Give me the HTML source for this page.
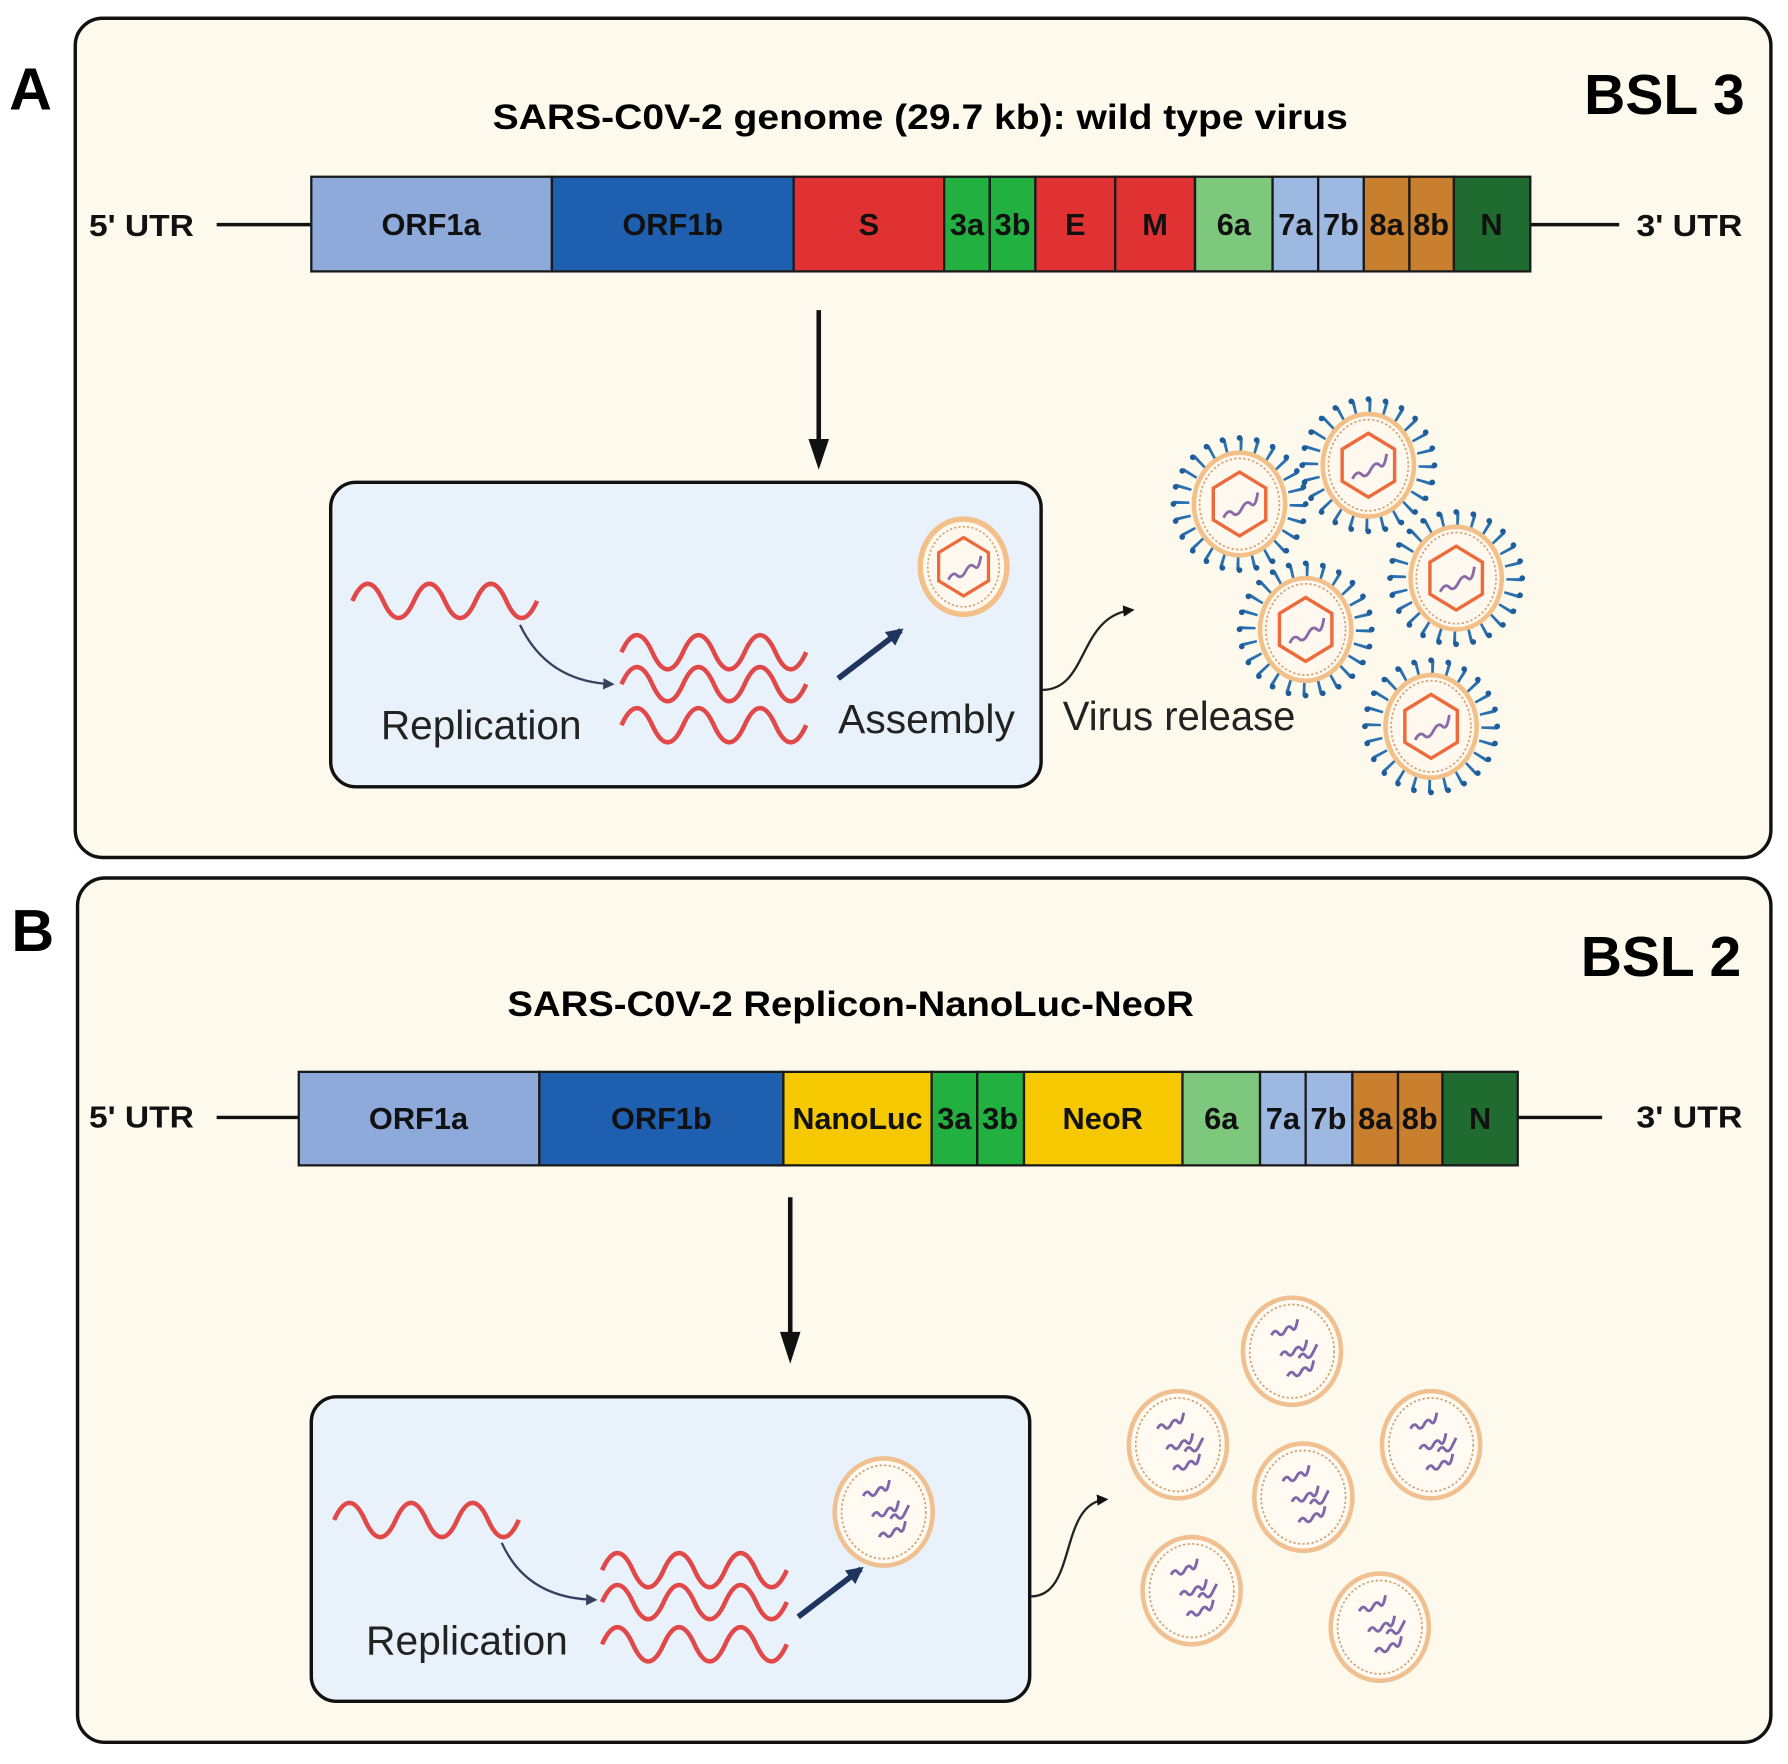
<!DOCTYPE html>
<html><head><meta charset="utf-8"><style>
html,body{margin:0;padding:0;background:#fff}
svg{display:block}
text{font-family:"Liberation Sans",sans-serif}
.g{font-weight:bold;font-size:27px;fill:#111}
</style></head><body>
<svg width="1788" height="1764" viewBox="0 0 1568 1547" preserveAspectRatio="none" xmlns="http://www.w3.org/2000/svg">
<defs>
<marker id="ah" viewBox="0 0 10 10" refX="8" refY="5" markerWidth="5" markerHeight="5" orient="auto"><path d="M0,0 L10,5 L0,10 z" fill="#34425e"/></marker>
<marker id="ah2" viewBox="0 0 10 10" refX="8" refY="5" markerWidth="3" markerHeight="3" orient="auto"><path d="M0,0 L10,5 L0,10 z" fill="#1e3560"/></marker>
<marker id="ahk" viewBox="0 0 10 10" refX="8" refY="5" markerWidth="5" markerHeight="5" orient="auto"><path d="M0,0 L10,5 L0,10 z" fill="#111"/></marker>
<g id="vir">
  <circle r="51" fill="none" stroke="#2a70b0" stroke-width="14" stroke-dasharray="2.5 10.85"/>
  <circle r="58" fill="none" stroke="#1f5c9a" stroke-width="5" stroke-dasharray="0 15.18" stroke-linecap="round"/>
  <ellipse rx="40" ry="45" fill="#fff8ee" stroke="#f2c088" stroke-width="4"/>
  <ellipse rx="35" ry="40" fill="none" stroke="#d6a070" stroke-width="1.5" stroke-dasharray="2 2"/>
  <polygon points="0,-28 23,-14 23,14 0,28 -23,14 -23,-14" fill="none" stroke="#ee6a3a" stroke-width="3"/>
  <path d="M-14,12 q4,-8 8,-4 t8,-4 t8,-4 t6,-10" fill="none" stroke="#8a6aa8" stroke-width="2.5"/>
</g>
<g id="ves">
  <ellipse rx="43" ry="47" fill="#fffaf2" stroke="#f0c090" stroke-width="4"/>
  <ellipse rx="37" ry="41" fill="none" stroke="#d2a070" stroke-width="1.5" stroke-dasharray="2 2"/>
  <path d="M-18,-14 q3,-6 6,-2 t6,-2 t6,-2 t5,-8 M-10,4 q3,-6 6,-2 t6,-2 t6,-2 t5,-8 M-4,22 q3,-6 6,-2 t6,-2 t6,-2 t5,-8 M6,6 q3,-6 6,-2 t6,-2 t4,-8" fill="none" stroke="#7a68a8" stroke-width="2.5"/>
</g>
<path id="wav" d="M0,0 q13.5,-30 27,0 t27,0 t27,0 t27,0 t27,0 t27,0" fill="none" stroke="#e24848" stroke-width="4"/>
</defs>

<rect width="1568" height="1547" fill="#fff"/>
<!-- Panel A -->
<rect x="66" y="16" width="1487" height="736" rx="24" fill="#fdf9ec" stroke="#111" stroke-width="3"/>
<text x="8" y="96" font-size="52" font-weight="bold">A</text>
<text x="1530" y="100" font-size="50" font-weight="bold" text-anchor="end">BSL 3</text>
<text x="432" y="113" font-size="31" font-weight="bold" textLength="750" lengthAdjust="spacingAndGlyphs">SARS-C0V-2 genome (29.7 kb): wild type virus</text>
<line x1="190" y1="197" x2="273" y2="197" stroke="#111" stroke-width="3"/>
<line x1="1342" y1="197" x2="1420" y2="197" stroke="#111" stroke-width="3"/>
<text x="78" y="207" class="g" textLength="92" lengthAdjust="spacingAndGlyphs">5' UTR</text>
<text x="1435" y="207" class="g" textLength="93" lengthAdjust="spacingAndGlyphs">3' UTR</text>
<g stroke="#1a1a1a" stroke-width="2">
<rect x="273" y="155" width="211" height="83" fill="#8eaadb"/>
<rect x="484" y="155" width="212" height="83" fill="#1f5fb0"/>
<rect x="696" y="155" width="132" height="83" fill="#e03232"/>
<rect x="828" y="155" width="40" height="83" fill="#22b040"/>
<rect x="868" y="155" width="40" height="83" fill="#22b040"/>
<rect x="908" y="155" width="70" height="83" fill="#e03232"/>
<rect x="978" y="155" width="70" height="83" fill="#e03232"/>
<rect x="1048" y="155" width="68" height="83" fill="#7dc87d"/>
<rect x="1116" y="155" width="40" height="83" fill="#9db9e2"/>
<rect x="1156" y="155" width="40" height="83" fill="#9db9e2"/>
<rect x="1196" y="155" width="40" height="83" fill="#c8802e"/>
<rect x="1236" y="155" width="39" height="83" fill="#c8802e"/>
<rect x="1275" y="155" width="67" height="83" fill="#1f6b30"/>
</g>
<g class="g" text-anchor="middle">
<text x="378" y="206" class="g">ORF1a</text><text x="590" y="206" class="g">ORF1b</text>
<text x="762" y="206" class="g">S</text><text x="848" y="206" class="g">3a</text><text x="888" y="206" class="g">3b</text>
<text x="943" y="206" class="g">E</text><text x="1013" y="206" class="g">M</text><text x="1082" y="206" class="g">6a</text>
<text x="1136" y="206" class="g">7a</text><text x="1176" y="206" class="g">7b</text><text x="1216" y="206" class="g">8a</text>
<text x="1255" y="206" class="g">8b</text><text x="1308" y="206" class="g">N</text>
</g>
<line x1="718" y1="272" x2="718" y2="395" stroke="#111" stroke-width="4"/>
<polygon points="709,385 727,385 718,412" fill="#111"/>
<rect x="290" y="423" width="623" height="267" rx="22" fill="#e9f1fb" stroke="#111" stroke-width="3"/>
<use href="#wav" x="309" y="527"/>
<use href="#wav" x="545" y="572"/>
<use href="#wav" x="545" y="600"/>
<use href="#wav" x="545" y="636"/>
<path d="M456,548 Q480,598 537,600" fill="none" stroke="#34425e" stroke-width="2" marker-end="url(#ah)"/>
<line x1="735" y1="595" x2="790" y2="553" stroke="#1e3560" stroke-width="5" marker-end="url(#ah2)"/>
<g transform="translate(845,497) scale(0.95)">
  <ellipse rx="40" ry="44" fill="#fff8ee" stroke="#f2c088" stroke-width="5"/>
  <ellipse rx="33" ry="37" fill="none" stroke="#d6a070" stroke-width="1.5" stroke-dasharray="2 2"/>
  <polygon points="0,-27 23,-13 23,13 0,27 -23,13 -23,-13" fill="none" stroke="#ee6a3a" stroke-width="3"/>
  <path d="M-14,12 q4,-8 8,-4 t8,-4 t8,-4 t6,-10" fill="none" stroke="#8a6aa8" stroke-width="2.5"/>
</g>
<text x="334" y="648" font-size="36" fill="#222" textLength="176" lengthAdjust="spacingAndGlyphs">Replication</text>
<text x="735" y="643" font-size="36" fill="#222" textLength="155" lengthAdjust="spacingAndGlyphs">Assembly</text>
<text x="932" y="640" font-size="36" fill="#222" textLength="204" lengthAdjust="spacingAndGlyphs">Virus release</text>
<path d="M914,605 C955,605 945,540 993,535" fill="none" stroke="#222" stroke-width="2" marker-end="url(#ahk)"/>
<use href="#vir" x="1087" y="442"/>
<use href="#vir" x="1200" y="408"/>
<use href="#vir" x="1277" y="507"/>
<use href="#vir" x="1145" y="552"/>
<use href="#vir" x="1255" y="637"/>

<!-- Panel B -->
<rect x="68" y="770" width="1485" height="758" rx="24" fill="#fdf9ec" stroke="#111" stroke-width="3"/>
<text x="10" y="834" font-size="52" font-weight="bold">B</text>
<text x="1527" y="856" font-size="50" font-weight="bold" text-anchor="end">BSL 2</text>
<text x="445" y="891" font-size="31" font-weight="bold" textLength="602" lengthAdjust="spacingAndGlyphs">SARS-C0V-2 Replicon-NanoLuc-NeoR</text>
<line x1="190" y1="980" x2="262" y2="980" stroke="#111" stroke-width="3"/>
<line x1="1331" y1="980" x2="1405" y2="980" stroke="#111" stroke-width="3"/>
<text x="78" y="989" class="g" textLength="92" lengthAdjust="spacingAndGlyphs">5' UTR</text>
<text x="1435" y="989" class="g" textLength="93" lengthAdjust="spacingAndGlyphs">3' UTR</text>
<g stroke="#1a1a1a" stroke-width="2">
<rect x="262" y="940" width="211" height="82" fill="#8eaadb"/>
<rect x="473" y="940" width="214" height="82" fill="#1f5fb0"/>
<rect x="687" y="940" width="130" height="82" fill="#f5c800"/>
<rect x="817" y="940" width="40" height="82" fill="#22b040"/>
<rect x="857" y="940" width="41" height="82" fill="#22b040"/>
<rect x="898" y="940" width="139" height="82" fill="#f5c800"/>
<rect x="1037" y="940" width="68" height="82" fill="#7dc87d"/>
<rect x="1105" y="940" width="40" height="82" fill="#9db9e2"/>
<rect x="1145" y="940" width="41" height="82" fill="#9db9e2"/>
<rect x="1186" y="940" width="40" height="82" fill="#c8802e"/>
<rect x="1226" y="940" width="39" height="82" fill="#c8802e"/>
<rect x="1265" y="940" width="66" height="82" fill="#1f6b30"/>
</g>
<g text-anchor="middle">
<text x="367" y="990" class="g">ORF1a</text><text x="580" y="990" class="g">ORF1b</text>
<text x="752" y="990" class="g" textLength="114" lengthAdjust="spacingAndGlyphs">NanoLuc</text>
<text x="837" y="990" class="g">3a</text><text x="877" y="990" class="g">3b</text>
<text x="967" y="990" class="g">NeoR</text><text x="1071" y="990" class="g">6a</text>
<text x="1125" y="990" class="g">7a</text><text x="1165" y="990" class="g">7b</text><text x="1206" y="990" class="g">8a</text>
<text x="1245" y="990" class="g">8b</text><text x="1298" y="990" class="g">N</text>
</g>
<line x1="693" y1="1050" x2="693" y2="1178" stroke="#111" stroke-width="4"/>
<polygon points="684,1168 702,1168 693,1196" fill="#111"/>
<rect x="273" y="1225" width="630" height="267" rx="22" fill="#e9f1fb" stroke="#111" stroke-width="3"/>
<use href="#wav" x="293" y="1333"/>
<use href="#wav" x="528" y="1377"/>
<use href="#wav" x="528" y="1405"/>
<use href="#wav" x="528" y="1442"/>
<path d="M440,1353 Q462,1402 522,1403" fill="none" stroke="#34425e" stroke-width="2" marker-end="url(#ah)"/>
<line x1="700" y1="1418" x2="755" y2="1376" stroke="#1e3560" stroke-width="5" marker-end="url(#ah2)"/>
<use href="#ves" x="775" y="1326"/>
<text x="321" y="1451" font-size="36" fill="#222" textLength="177" lengthAdjust="spacingAndGlyphs">Replication</text>
<path d="M904,1400 C945,1400 928,1318 970,1315" fill="none" stroke="#222" stroke-width="2" marker-end="url(#ahk)"/>
<use href="#ves" x="1133" y="1185"/>
<use href="#ves" x="1033" y="1267"/>
<use href="#ves" x="1255" y="1267"/>
<use href="#ves" x="1143" y="1313"/>
<use href="#ves" x="1045" y="1395"/>
<use href="#ves" x="1210" y="1427"/>
</svg>
</body></html>
